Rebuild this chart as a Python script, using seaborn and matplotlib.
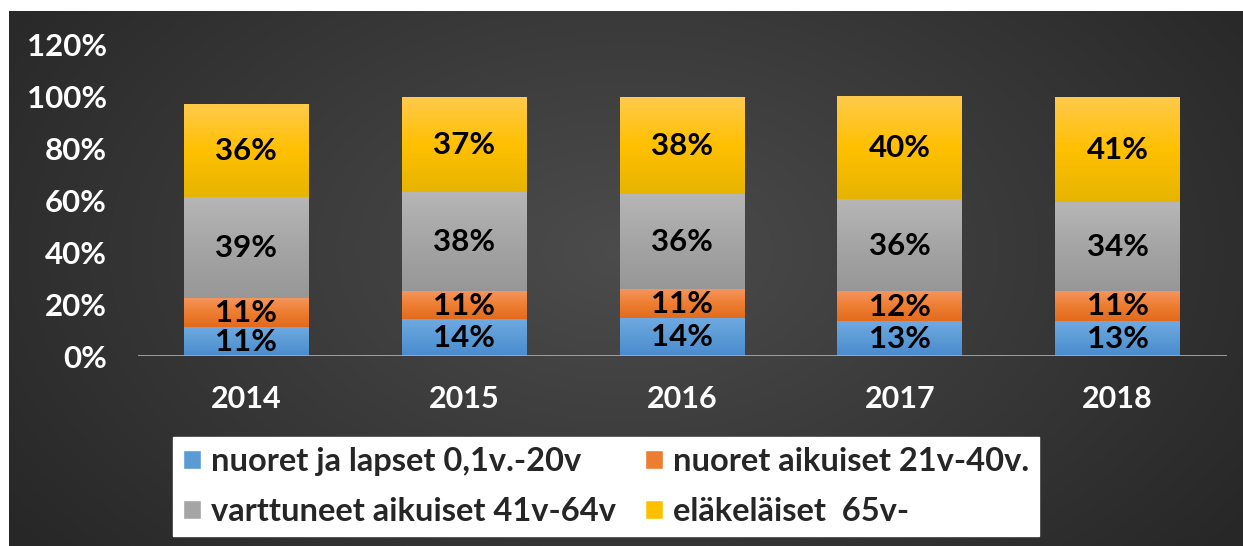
import numpy as np
import pandas as pd
import matplotlib
matplotlib.use("Agg")
import matplotlib.pyplot as plt
import seaborn as sns
from matplotlib.colors import LinearSegmentedColormap
from matplotlib.patches import Patch

# data (shares in %)
years = ["2014", "2015", "2016", "2017", "2018"]
groups = ["nuoret ja lapset 0,1v.-20v", "nuoret aikuiset 21v-40v.",
          "varttuneet aikuiset 41v-64v", "eläkeläiset  65v-"]
children = [11, 13.9, 14.4, 13.2, 13.4]
young_adults = [11, 11, 11.4, 11.6, 11.4]
middle_aged = [39, 38, 36.4, 35.6, 34.4]
retired = [36, 37, 37.8, 39.6, 40.8]
yticks = [0, 20, 40, 60, 80, 100, 120]

# (top, middle, bottom) colour of each segment's gradient
grad_colors = [("#6fa9e2", "#5b9bd5", "#4a8bd0"),
               ("#f5955c", "#ed7d31", "#e26a1c"),
               ("#b6b6b6", "#a5a5a5", "#979797"),
               ("#ffca4b", "#ffc000", "#e6b400")]

series = [children, young_adults, middle_aged, retired]
df = pd.DataFrame({"year": years})
running = np.zeros(len(years))
for k, vals in enumerate(series):
    running = running + np.array(vals)
    df[f"cum{k + 1}"] = running

sns.set_style("white")
plt.rcParams["font.family"] = ["Lato", "DejaVu Sans"]
FW = "bold"

W, H = 1243, 546
fig = plt.figure(figsize=(W / 100, H / 100), dpi=100, facecolor="white")

# dark radial background
bg = fig.add_axes([9 / W, 0, 1 - 9 / W, 535 / H], zorder=0)
yy, xx = np.mgrid[0:1:300j, 0:1:600j]
r = np.clip(np.sqrt(((xx - 0.5) / 0.62) ** 2 + ((yy - 0.45) / 0.9) ** 2), 0, 1)
bg.imshow(r, cmap=LinearSegmentedColormap.from_list("bg", ["#4c4c4c", "#272727"]),
          extent=[0, 1, 0, 1], aspect="auto", vmin=0, vmax=1)
bg.axis("off")

ax = fig.add_axes([137.5 / W, 190 / H, 1089 / W, 311 / H], zorder=1)
ax.patch.set_alpha(0)

bar_w = 0.573
order = [4, 3, 2, 1]
for k in order:
    sns.barplot(data=df, x="year", y=f"cum{k}", color=grad_colors[k - 1][1],
                width=bar_w, saturation=1, errorbar=None, linewidth=0, ax=ax)

# gradient fill per visible segment
for idx, k in enumerate(order):
    top_c, mid_c, bot_c = grad_colors[k - 1]
    cmap = LinearSegmentedColormap.from_list(f"g{k}", [top_c, mid_c, bot_c])
    grad = np.linspace(0, 1, 100).reshape(-1, 1)
    for i, p in enumerate(ax.containers[idx]):
        top = p.get_height()
        bottom = df[f"cum{k - 1}"][i] if k > 1 else 0
        x0 = p.get_x()
        ax.imshow(grad, cmap=cmap, extent=[x0, x0 + p.get_width(), bottom, top],
                  aspect="auto", origin="upper", zorder=3, interpolation="bilinear")

# labels in the middle of each segment
for k, vals in enumerate(series):
    for i, v in enumerate(vals):
        base = df[f"cum{k}"][i] if k > 0 else 0
        ax.text(i, base + v / 2, f"{round(v)}%", ha="center", va="center",
                fontsize=22.5, fontweight=FW, color="black", zorder=10)

ax.axhline(0, color="#a8a8a8", lw=2, zorder=9)
ax.set_xlim(-0.5, 4.5)
ax.set_ylim(0, 120)
ax.set_yticks(yticks)
ax.set_yticklabels([f"{t}%" for t in yticks])
ax.set_xlabel("")
ax.set_ylabel("")
ax.tick_params(axis="y", length=0, pad=22, labelsize=22.5, labelcolor="white")
ax.tick_params(axis="x", length=0, pad=21, labelsize=22, labelcolor="white")
for lab in ax.get_xticklabels() + ax.get_yticklabels():
    lab.set_fontweight(FW)
sns.despine(ax=ax, left=True, bottom=True)

handles = [Patch(facecolor=grad_colors[j][1]) for j in (0, 2, 1, 3)]
labels = [groups[j] for j in (0, 2, 1, 3)]
fig.legend(handles, labels, ncol=2, loc="center",
           bbox_to_anchor=(606 / W, 1 - 486.5 / H), frameon=True, fancybox=False,
           facecolor="white", edgecolor="white", framealpha=1,
           prop={"weight": FW, "size": 23.5}, handlelength=0.55, handleheight=0.55,
           handletextpad=0.3, columnspacing=0.9, labelspacing=0.65, borderpad=0.3,
           borderaxespad=0)

fig.savefig("out.png", dpi=100, facecolor="white")
